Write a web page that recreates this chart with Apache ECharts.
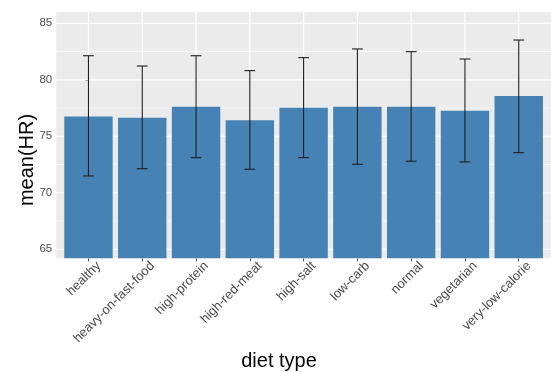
<!DOCTYPE html>
<html>
<head>
<meta charset="utf-8">
<script src="https://cdn.jsdelivr.net/npm/echarts@6/dist/echarts.min.js"></script>
<style>html,body{margin:0;padding:0;background:#fff}#c{width:551px;height:372px}</style>
</head>
<body>
<div id="c"></div>
<script>
var categories = ['healthy','heavy-on-fast-food','high-protein','high-red-meat','high-salt','low-carb','normal','vegetarian','very-low-calorie'];
var meanHR = [76.74, 76.65, 77.62, 76.42, 77.53, 77.62, 77.62, 77.27, 78.57];
var upperHR = [82.13, 81.22, 82.13, 80.81, 81.96, 82.73, 82.49, 81.84, 83.52];
var lowerHR = [71.49, 72.13, 73.11, 72.08, 73.11, 72.52, 72.79, 72.73, 73.55];
var yTicks = [65, 70, 75, 80, 85];
var yMinorGrid = [67.5, 72.5, 77.5, 82.5];
var yMin = 64.2, yMax = 86.0;

var chart = echarts.init(document.getElementById('c'), null, {renderer: 'canvas'});
var catIdx = categories.map(function (c, i) { return i; });

function hGridSeries(values, lw) {
  return {
    type: 'custom', z: 1, silent: true,
    data: values.map(function (v) { return [0, v]; }),
    renderItem: function (params, api) {
      var cs = params.coordSys;
      var p = api.coord([0, api.value(1)]);
      return {type: 'line', shape: {x1: cs.x, y1: p[1], x2: cs.x + cs.width, y2: p[1]},
        style: {stroke: '#ffffff', lineWidth: lw}};
    }
  };
}

var option = {
  animation: false,
  grid: {left: 56.2, top: 12, width: 502.9, height: 246.3, show: true, backgroundColor: '#EBEBEB', borderWidth: 0},
  xAxis: {
    type: 'value', min: -0.6, max: 8.6,
    axisLine: {show: false},
    splitLine: {show: false},
    axisTick: {show: true, customValues: catIdx, length: 3, lineStyle: {color: '#4D4D4D'}},
    axisLabel: {customValues: catIdx, rotate: 45, margin: 1, color: '#4D4D4D', fontSize: 13,
      verticalAlign: 'top', align: 'right', padding: [4, -4, 0, 0],
      fontFamily: 'Liberation Sans, Arial, sans-serif',
      formatter: function (v) { return categories[Math.round(v)] || ''; }}
  },
  yAxis: {
    type: 'value', min: yMin, max: yMax,
    axisLine: {show: false},
    splitLine: {show: false},
    axisTick: {show: true, customValues: yTicks, length: 3, lineStyle: {color: '#4D4D4D'}},
    axisLabel: {customValues: yTicks, margin: 4, color: '#4D4D4D', fontSize: 11.5,
      fontFamily: 'Liberation Sans, Arial, sans-serif'}
  },
  graphic: [
    {type: 'text', x: 279, y: 361, z: 10, style: {text: 'diet type', textAlign: 'center', textVerticalAlign: 'middle', fontSize: 20, fontFamily: 'Liberation Sans, Arial, sans-serif', fill: '#000'}},
    {type: 'text', x: 27, y: 160, rotation: Math.PI / 2, z: 10, style: {text: 'mean(HR)', textAlign: 'center', textVerticalAlign: 'middle', fontSize: 20, fontFamily: 'Liberation Sans, Arial, sans-serif', fill: '#000'}}
  ],
  series: [
    hGridSeries(yMinorGrid, 0.6),
    hGridSeries(yTicks, 1.2),
    {
      type: 'custom', z: 1, silent: true,
      data: catIdx.map(function (i) { return [i, yMin]; }),
      renderItem: function (params, api) {
        var cs = params.coordSys;
        var p = api.coord([api.value(0), yMin]);
        return {type: 'line', shape: {x1: p[0], y1: cs.y, x2: p[0], y2: cs.y + cs.height},
          style: {stroke: '#ffffff', lineWidth: 1.2}};
      }
    },
    {
      type: 'custom', z: 2, silent: true,
      data: catIdx.map(function (i) { return [i, meanHR[i]]; }),
      renderItem: function (params, api) {
        var x = api.value(0), v = api.value(1);
        var top = api.coord([x, v]);
        var bot = api.coord([x, yMin]);
        var w = api.size([0.9, 0])[0];
        return {type: 'rect', shape: {x: top[0] - w / 2, y: top[1], width: w, height: bot[1] - top[1]},
          style: {fill: '#4682B4'}};
      }
    },
    {
      type: 'custom', z: 3, silent: true,
      data: catIdx.map(function (i) { return [i, lowerHR[i], upperHR[i]]; }),
      renderItem: function (params, api) {
        var x = api.value(0);
        var lo = api.coord([x, api.value(1)]);
        var hi = api.coord([x, api.value(2)]);
        var cw = api.size([0.2, 0])[0] / 2;
        var st = {stroke: '#1f1f1f', lineWidth: 1.1};
        return {type: 'group', children: [
          {type: 'line', shape: {x1: lo[0], y1: lo[1], x2: hi[0], y2: hi[1]}, style: st},
          {type: 'line', shape: {x1: hi[0] - cw, y1: hi[1], x2: hi[0] + cw, y2: hi[1]}, style: st},
          {type: 'line', shape: {x1: lo[0] - cw, y1: lo[1], x2: lo[0] + cw, y2: lo[1]}, style: st}
        ]};
      }
    }
  ]
};
chart.setOption(option);
</script>
</body>
</html>
